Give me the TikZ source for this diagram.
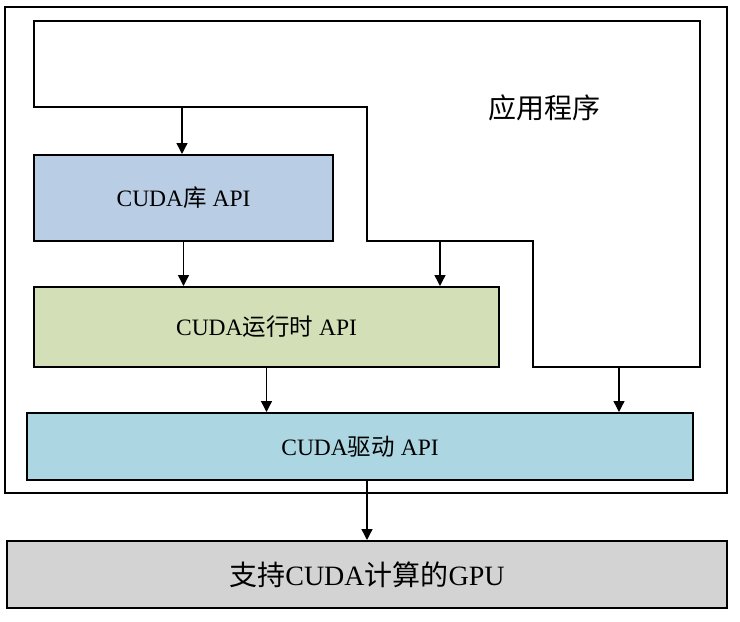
\documentclass[tikz,border=0pt]{standalone}
\usepackage{fontspec}
\setmainfont{Liberation Serif}
\newfontfamily\cjk{Noto Sans CJK SC}
\usetikzlibrary{arrows.meta}
\definecolor{libblue}{HTML}{B9CDE5}
\definecolor{rtgreen}{HTML}{D3DFB6}
\definecolor{drvcyan}{HTML}{ADD6E3}
\definecolor{gpugray}{HTML}{D3D3D3}
\tikzset{
layer/.style={draw,line width=2pt,inner sep=0pt,font=\fontsize{23.5}{28}\selectfont},
arr/.style={-{Triangle[width=11pt,length=11pt]},line width=1.4pt}
}
\begin{document}
\begin{tikzpicture}[x=1pt,y=-1pt]
\useasboundingbox (0,0) rectangle (740,622);
%\draw[help lines] (0,0) grid[step=50] (740,622);
\draw[line width=2pt] (5,7) rectangle (727,493);
\draw[line width=2pt] (34,21) -- (700,21) -- (700,367) -- (533,367) -- (533,241)
  -- (367,241) -- (367,107) -- (34,107) -- cycle;
\path
(544,108) node[font=\fontsize{28}{32}\selectfont] (app) {\cjk 应用程序}
(183.5,198) node[layer,fill=libblue,minimum width=299pt,minimum height=86pt] (lib) {CUDA{\cjk 库} API}
(266.5,327) node[layer,fill=rtgreen,minimum width=465pt,minimum height=80pt] (rt) {CUDA{\cjk 运行时} API}
(360,446.5) node[layer,fill=drvcyan,minimum width=666pt,minimum height=67pt] (drv) {CUDA{\cjk 驱动} API}
(367,574.5) node[layer,fill=gpugray,minimum width=720pt,minimum height=67pt,font=\fontsize{28}{32}\selectfont] (gpu) {{\cjk 支持}CUDA{\cjk 计算的}GPU};
\coordinate (t1) at (182,107);
\coordinate (t2) at (440,241);
\coordinate (t3) at (619,367);
\draw[arr] (t1) -- (t1 |- lib.north);
\draw[arr] (lib.south) -- (lib.south |- rt.north);
\draw[arr] (t2) -- (t2 |- rt.north);
\draw[arr] (rt.south) -- (rt.south |- drv.north);
\draw[arr] (t3) -- (t3 |- drv.north);
\draw[arr] (drv.south -| gpu.north) -- (gpu.north);
\end{tikzpicture}
\end{document}
